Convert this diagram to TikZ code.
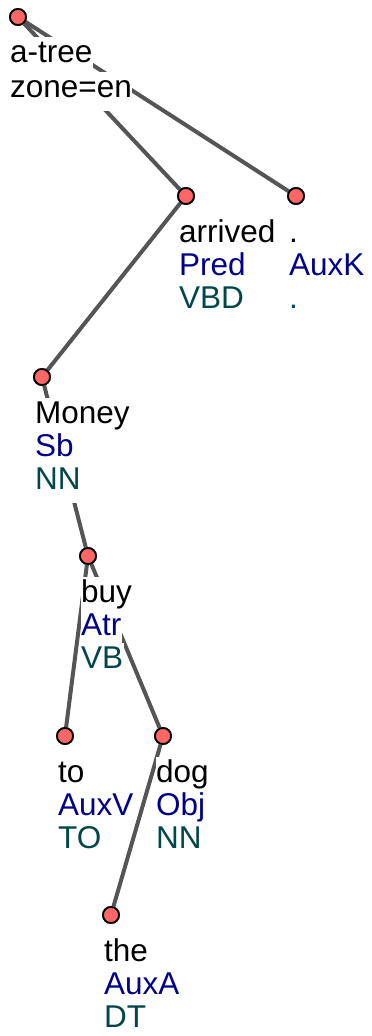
\documentclass[tikz,border=0pt]{standalone}
\usepackage{fontspec}
\setmainfont{Liberation Sans}
\definecolor{AfunBlue}{RGB}{0,0,139}
\definecolor{TagTeal}{RGB}{0,70,75}
\definecolor{EdgeGray}{RGB}{85,85,85}
\definecolor{NodeRed}{RGB}{255,102,102}
\usetikzlibrary{positioning}

\begin{document}
\begin{tikzpicture}[
        x=1pt, y=-1pt, font=\fontsize{31.5}{34}\selectfont,
        tn/.style={circle, draw=black, line width=1.8pt, fill=NodeRed,
                   minimum size=16pt, inner sep=0pt},
        e/.style={line width=4pt, EdgeGray},
        lbl/.style={fill=white, anchor=base west, inner xsep=0.5pt, inner ysep=0pt,
                    text height=25pt, text depth=14pt},
        afun/.style={lbl, text=AfunBlue},
        tag/.style={lbl, text=TagTeal}
      ]
        \useasboundingbox (0,0) rectangle (372,1036);
        % tree nodes
        \node[tn] (root)  at (18,17)   {};
        \node[tn] (arr)   at (186,196) {};
        \node[tn] (per)   at (296,196) {};
        \node[tn] (money) at (42,377)  {};
        \node[tn] (buy)   at (88,556)  {};
        \node[tn] (to)    at (65,736)  {};
        \node[tn] (dog)   at (163,736) {};
        \node[tn] (the)   at (111,915) {};
        % edges
        \draw[e] (root) -- (arr);
        \draw[e] (root) -- (per);
        \draw[e] (arr)  -- (money);
        \draw[e] (money) -- (buy);
        \draw[e] (buy)  -- (to);
        \draw[e] (buy)  -- (dog);
        \draw[e] (dog)  -- (the);
        % labels
        \node[lbl] (rootw) at ([shift={(-8.5,45)}]root) {a-tree};
        \node[lbl] (rootz) at ([shift={(-8.5,80)}]root) {zone=en};
        \node[lbl]  (arrw) at ([shift={(-7.5,46)}]arr) {arrived};
        \node[afun] (arra) at ([shift={(-7.5,79)}]arr) {Pred};
        \node[tag]  (arrt) at ([shift={(-7.5,112)}]arr) {VBD};
        \node[lbl]  (perw) at ([shift={(-7.5,46)}]per) {.};
        \node[afun] (pera) at ([shift={(-7.5,79)}]per) {AuxK};
        \node[tag]  (pert) at ([shift={(-7.5,112)}]per) {.};
        \node[lbl]  (moneyw) at ([shift={(-7.5,46)}]money) {Money};
        \node[afun] (moneya) at ([shift={(-7.5,79)}]money) {Sb};
        \node[tag]  (moneyt) at ([shift={(-7.5,112)}]money) {NN};
        \node[lbl]  (buyw) at ([shift={(-7.5,46)}]buy) {buy};
        \node[afun] (buya) at ([shift={(-7.5,79)}]buy) {Atr};
        \node[tag]  (buyt) at ([shift={(-7.5,112)}]buy) {VB};
        \node[lbl]  (tow) at ([shift={(-7.5,46)}]to) {to};
        \node[afun] (toa) at ([shift={(-7.5,79)}]to) {AuxV};
        \node[tag]  (tot) at ([shift={(-7.5,112)}]to) {TO};
        \node[lbl]  (dogw) at ([shift={(-7.5,46)}]dog) {dog};
        \node[afun] (doga) at ([shift={(-7.5,79)}]dog) {Obj};
        \node[tag]  (dogt) at ([shift={(-7.5,112)}]dog) {NN};
        \node[lbl]  (thew) at ([shift={(-7.5,46)}]the) {the};
        \node[afun] (thea) at ([shift={(-7.5,79)}]the) {AuxA};
        \node[tag]  (thet) at ([shift={(-7.5,112)}]the) {DT};
        % circles again, over the edge ends
        \foreach \n in {root,arr,per,money,buy,to,dog,the}
          \node[tn] at (\n) {};
      \end{tikzpicture}
\end{document}
